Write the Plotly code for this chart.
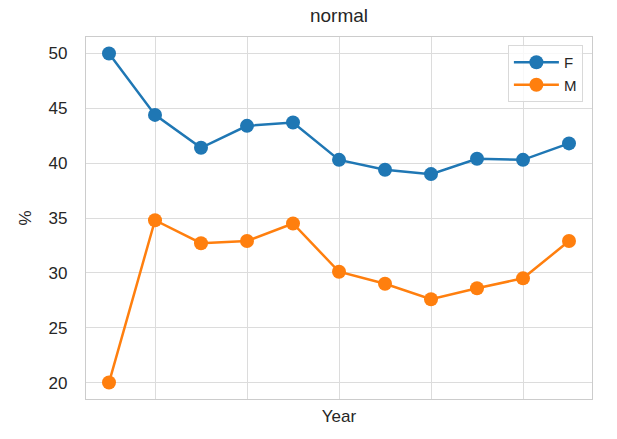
import plotly.graph_objects as go

years = list(range(2009, 2020))
female = [50.0, 44.4, 41.4, 43.4, 43.7, 40.3, 39.4, 39.0, 40.4, 40.3, 41.8]
male = [20.0, 34.8, 32.7, 32.9, 34.5, 30.1, 29.0, 27.6, 28.6, 29.5, 32.9]
xtick_vals = [2010, 2012, 2014, 2016, 2018]
ytick_vals = [20, 25, 30, 35, 40, 45, 50]

FONT = "Liberation Sans, Arial, sans-serif"
fig = go.Figure()
fig.add_trace(go.Scatter(x=years, y=female, name="F", mode="lines+markers",
                         line=dict(color="#1f77b4", width=2.5),
                         marker=dict(size=14, color="#1f77b4")))
fig.add_trace(go.Scatter(x=years, y=male, name="M", mode="lines+markers",
                         line=dict(color="#ff7f0e", width=2.5),
                         marker=dict(size=14, color="#ff7f0e")))

fig.update_layout(
    width=617, height=439,
    margin=dict(l=86, r=25, t=37, b=40),
    paper_bgcolor="white", plot_bgcolor="white",
    font=dict(family=FONT, color="#262626"),
    title=dict(text="normal", x=0.5, xanchor="center", y=0.965, yanchor="middle",
               xref="paper", font=dict(size=19, color="#262626")),
    legend=dict(x=0.982, xanchor="right", y=0.978, yanchor="top",
                bordercolor="#d9d9d9", borderwidth=1, bgcolor="rgba(255,255,255,0.8)",
                font=dict(size=15, color="#262626"), tracegroupgap=4, itemwidth=45),
    showlegend=True,
)
fig.update_xaxes(range=[2008.5, 2019.5], tickvals=xtick_vals, showticklabels=False,
                 showgrid=True, gridcolor="#dcdcdc", gridwidth=1.2,
                 showline=True, linecolor="#cccccc", linewidth=1.2, mirror=True,
                 zeroline=False,
                 title=dict(text="Year", font=dict(size=17, color="#262626"), standoff=10))
fig.update_yaxes(range=[18.5, 51.5], tickvals=ytick_vals,
                 showgrid=True, gridcolor="#dcdcdc", gridwidth=1.2,
                 showline=True, linecolor="#cccccc", linewidth=1.2, mirror=True,
                 zeroline=False, tickfont=dict(size=17, color="#262626"),
                 ticklabelstandoff=14,
                 title=dict(text="%", font=dict(size=17, color="#262626"), standoff=12))

fig.write_html("out.html", config={"displayModeBar": False},
               post_script="document.body.style.margin='0';")
